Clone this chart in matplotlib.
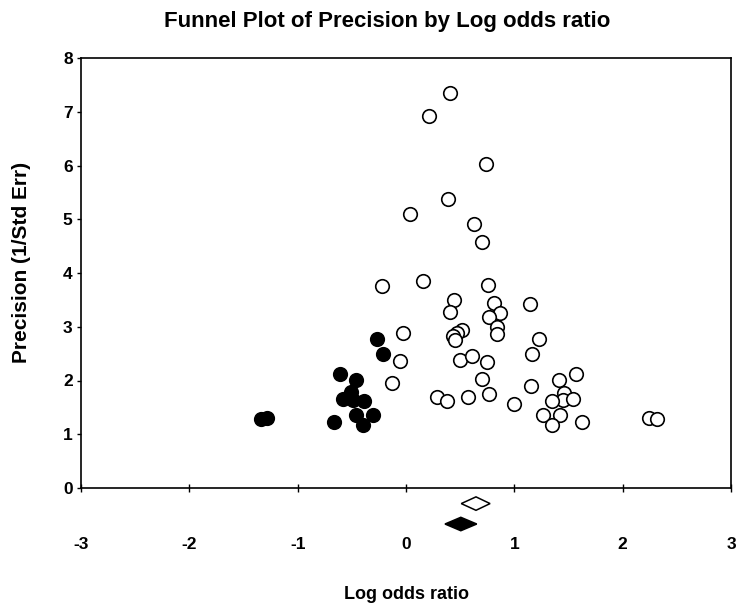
import matplotlib
matplotlib.use("Agg")
import matplotlib.pyplot as plt
import numpy as np

# Data: log odds ratio (x) and precision (y)
open_x = [0.41, 0.21, 0.74, 0.39, 0.04, 0.63, 0.70, -0.22, 0.155, 0.76,
          0.44, 0.41, 0.815, 1.145, 0.865, 0.77, 0.838, 0.838, 0.514, 0.468,
          0.431, 0.453, -0.025, -0.06, 0.50, 0.61, 0.75, 1.165, 1.225, -0.125,
          0.70, 0.29, 0.376, 0.576, 0.766, 1.00, 1.154, 1.416, 1.568, 1.463,
          1.447, 1.546, 1.344, 1.263, 1.423, 1.352, 1.623, 2.247, 2.316]
open_y = [7.35, 6.93, 6.02, 5.37, 5.10, 4.92, 4.57, 3.75, 3.86, 3.77,
          3.50, 3.28, 3.45, 3.42, 3.26, 3.19, 2.99, 2.86, 2.94, 2.88,
          2.83, 2.76, 2.88, 2.37, 2.39, 2.45, 2.35, 2.50, 2.77, 1.95,
          2.02, 1.70, 1.61, 1.70, 1.75, 1.57, 1.90, 2.01, 2.12, 1.76,
          1.64, 1.65, 1.61, 1.36, 1.35, 1.17, 1.23, 1.30, 1.28]

filled_x = [-1.34, -1.28, -0.27, -0.21, -0.605, -0.462, -0.508, -0.582,
            -0.487, -0.388, -0.465, -0.305, -0.40, -0.668]
filled_y = [1.29, 1.30, 2.78, 2.50, 2.12, 2.01, 1.78, 1.65,
            1.63, 1.61, 1.35, 1.36, 1.17, 1.23]

# Summary diamonds: (center, lower, upper, y position)
open_diamond = [0.646, 0.51, 0.776, -0.29]
filled_diamond = [0.506, 0.36, 0.653, -0.67]
diamond_half_height = 0.125

xticks = [-3, -2, -1, 0, 1, 2, 3]
yticks = [0, 1, 2, 3, 4, 5, 6, 7, 8]

title = "Funnel Plot of Precision by Log odds ratio"
xlabel = "Log odds ratio"
ylabel = "Precision (1/Std Err)"

plt.rcParams['font.family'] = ['Liberation Sans', 'DejaVu Sans']

fig = plt.figure(figsize=(7.38, 6.07), dpi=100)
W, H = 738, 607
ax = fig.add_axes([81 / W, (H - 488) / H, 650 / W, 430 / H])

ax.scatter(open_x, open_y, s=95, facecolors='white', edgecolors='black',
           linewidths=1.2, zorder=3)
ax.scatter(filled_x, filled_y, s=95, facecolors='black', edgecolors='black',
           linewidths=1.2, zorder=4)

def diamond(ax, d, fc):
    c, lo, hi, yy = d
    xs = [lo, c, hi, c, lo]
    ys = [yy, yy + diamond_half_height, yy, yy - diamond_half_height, yy]
    ax.fill(xs, ys, facecolor=fc, edgecolor='black', linewidth=1.1,
            clip_on=False, zorder=5)

diamond(ax, open_diamond, 'white')
diamond(ax, filled_diamond, 'black')

ax.set_xlim(-3, 3)
ax.set_ylim(0, 8)
ax.set_xticks(xticks)
ax.set_yticks(yticks)
ax.set_xticklabels([str(t) for t in xticks])
ax.set_yticklabels([str(t) for t in yticks])

for sp in ax.spines.values():
    sp.set_linewidth(1.2)
    sp.set_color('black')

ax.tick_params(axis='x', direction='inout', length=6, width=1.0,
               pad=32, labelsize=12.5)
ax.tick_params(axis='y', direction='out', length=3, width=1.0,
               pad=3, labelsize=12.5)
for lab in ax.get_xticklabels() + ax.get_yticklabels():
    lab.set_fontweight('bold')

ax.set_xlabel(xlabel, fontsize=13, fontweight='bold', labelpad=25)
ax.set_ylabel(ylabel, fontsize=15, fontweight='bold')
ax.yaxis.set_label_coords(-0.077, 0.525)
ax.set_title(title, fontsize=16, fontweight='bold', pad=22)
ax.title.set_x(0.471)

fig.savefig("out.png", dpi=100)
